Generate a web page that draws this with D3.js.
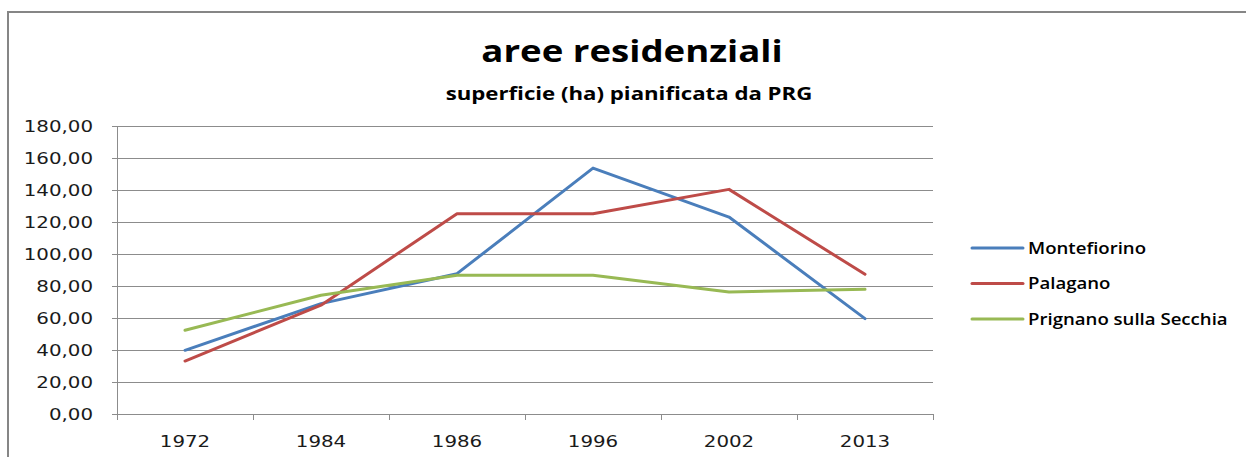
<!DOCTYPE html>
<html>
<head>
<meta charset="utf-8">
<script src="https://cdn.jsdelivr.net/npm/d3@7"></script>
<style>
body { margin: 0; background: #fff; overflow: hidden; }
svg { display: block; }
</style>
</head>
<body>
<script>
var width = 1246,
    height = 457;

// dati
var years = ["1972", "1984", "1986", "1996", "2002", "2013"];
var montefiorino = [39.8, 69.0, 87.7, 153.7, 123.1, 59.6];
var palagano = [33.1, 68.0, 125.2, 125.2, 140.4, 87.3];
var prignano = [52.3, 74.2, 86.7, 86.7, 76.3, 77.9];
var seriesNames = ["Montefiorino", "Palagano", "Prignano sulla Secchia"];
var seriesColors = ["#4a7ebb", "#be4b48", "#98b954"];
var yTicks = [0, 20, 40, 60, 80, 100, 120, 140, 160, 180];

var series = [montefiorino, palagano, prignano].map(function(v, i) {
  return { name: seriesNames[i], color: seriesColors[i], values: v };
});

var sx = 1.2; // il grafico originale e' stirato in orizzontale
function stretch(sel) {
  sel.each(function() {
    var w = this.getComputedTextLength();
    d3.select(this).attr("textLength", w * sx).attr("lengthAdjust", "spacingAndGlyphs");
  });
}

var it = d3.formatLocale({ decimal: ",", thousands: ".", grouping: [3], currency: ["", " €"] });
var fmt = it.format(".2f");

var svg = d3.select("body").append("svg")
  .attr("width", width)
  .attr("height", height);

// cornice
svg.append("path")
  .attr("d", "M" + width + ",12H8V" + height)
  .attr("fill", "none")
  .attr("stroke", "#868686")
  .attr("stroke-width", 2);

var plot = { left: 117, top: 126, width: 816, height: 288 };

var x = d3.scaleBand().domain(years).range([plot.left, plot.left + plot.width]);
var y = d3.scaleLinear().domain([0, 180]).range([plot.top + plot.height, plot.top]);

// griglia
svg.append("g").selectAll("line").data(yTicks).enter().append("line")
  .attr("x1", plot.left - 5).attr("x2", plot.left + plot.width)
  .attr("y1", function(d) { return Math.round(y(d)) + 0.5; })
  .attr("y2", function(d) { return Math.round(y(d)) + 0.5; })
  .attr("stroke", "#8c8c8c")
  .attr("stroke-width", 1);

// asse y
svg.append("line")
  .attr("x1", plot.left + 0.5).attr("x2", plot.left + 0.5)
  .attr("y1", plot.top).attr("y2", plot.top + plot.height)
  .attr("stroke", "#8c8c8c");

svg.append("g").selectAll("text").data(yTicks).enter().append("text")
  .attr("x", 93)
  .attr("y", function(d) { return y(d); })
  .attr("dy", "0.36em")
  .attr("text-anchor", "end")
  .style("font-family", "DejaVu Sans")
  .style("font-size", "16.5px")
  .style("fill", "#1a1a1a")
  .text(function(d) { return fmt(d); })
  .call(stretch);

// asse x
var xb = years.map(function(d) { return x(d); }).concat([plot.left + plot.width]);
svg.append("g").selectAll("line").data(xb).enter().append("line")
  .attr("x1", function(d) { return Math.round(d) + 0.5; })
  .attr("x2", function(d) { return Math.round(d) + 0.5; })
  .attr("y1", plot.top + plot.height)
  .attr("y2", plot.top + plot.height + 6)
  .attr("stroke", "#8c8c8c");

svg.append("g").selectAll("text").data(years).enter().append("text")
  .attr("x", function(d) { return x(d) + x.bandwidth() / 2; })
  .attr("y", 446.5)
  .attr("text-anchor", "middle")
  .style("font-family", "DejaVu Sans")
  .style("font-size", "16.5px")
  .style("fill", "#1a1a1a")
  .text(function(d) { return d; })
  .call(stretch);

// linee
var line = d3.line()
  .x(function(d, i) { return x(years[i]) + x.bandwidth() / 2; })
  .y(function(d) { return y(d); });

svg.append("g").selectAll("path").data(series).enter().append("path")
  .attr("d", function(d) { return line(d.values); })
  .attr("fill", "none")
  .attr("stroke", function(d) { return d.color; })
  .attr("stroke-width", 3)
  .attr("stroke-linejoin", "round")
  .attr("stroke-linecap", "round");

// titolo
svg.append("text")
  .attr("x", 632).attr("y", 62)
  .attr("text-anchor", "middle")
  .style("font-family", "Open Sans")
  .style("font-weight", "bold")
  .style("font-size", "30.5px")
  .style("fill", "#000")
  .text("aree residenziali")
  .call(stretch);

svg.append("text")
  .attr("x", 629).attr("y", 100)
  .attr("text-anchor", "middle")
  .style("font-family", "Open Sans")
  .style("font-weight", "bold")
  .style("font-size", "18.5px")
  .style("fill", "#000")
  .text("superficie (ha) pianificata da PRG")
  .call(stretch);

// legenda
var leg = svg.append("g").selectAll("g").data(series).enter().append("g")
  .attr("transform", function(d, i) { return "translate(972," + (248 + i * 35.5) + ")"; });

leg.append("line")
  .attr("x1", 0).attr("x2", 51)
  .attr("stroke", function(d) { return d.color; })
  .attr("stroke-width", 3)
  .attr("stroke-linecap", "round");

leg.append("text")
  .attr("x", 56)
  .attr("dy", "0.36em")
  .style("font-family", "Open Sans")
  .style("font-weight", "600")
  .style("font-size", "15.5px")
  .style("fill", "#000")
  .text(function(d) { return d.name; })
  .call(stretch);
</script>
</body>
</html>
